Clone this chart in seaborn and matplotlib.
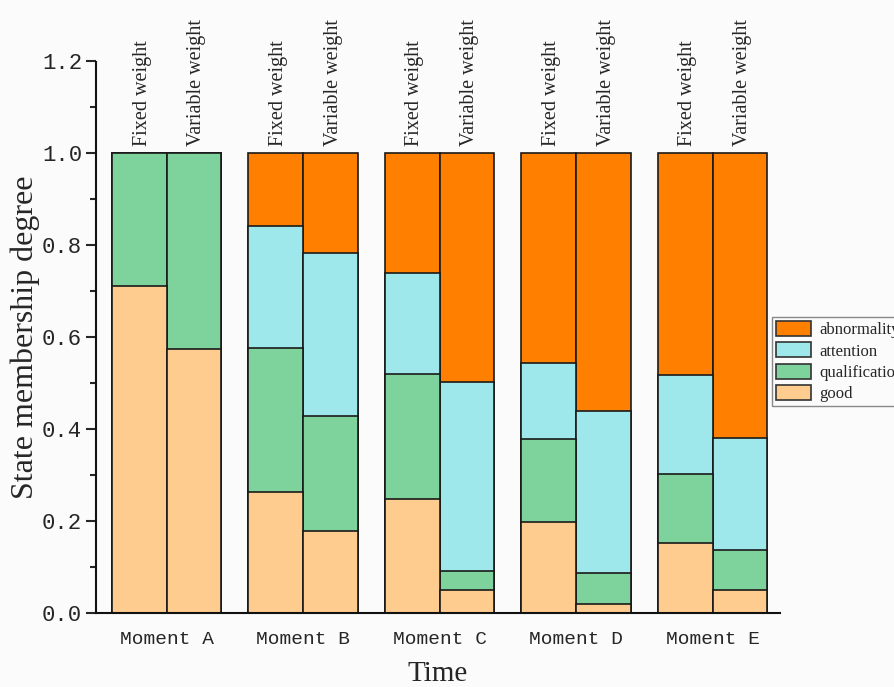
import numpy as np
import pandas as pd
import matplotlib
matplotlib.use("Agg")
import matplotlib.pyplot as plt
from matplotlib.patches import Patch
from matplotlib.ticker import MultipleLocator, FormatStrFormatter
import seaborn as sns

# values (per layer, fixed / variable weight for each moment)
moments = ["Moment A", "Moment B", "Moment C", "Moment D", "Moment E"]
weights = ["Fixed weight", "Variable weight"]
good = [0.711, 0.575, 0.264, 0.178, 0.248, 0.050, 0.197, 0.019, 0.152, 0.050]
qualification = [0.289, 0.425, 0.313, 0.250, 0.272, 0.042, 0.181, 0.067, 0.150, 0.086]
attention = [0.000, 0.000, 0.264, 0.355, 0.219, 0.411, 0.165, 0.354, 0.215, 0.244]
abnormality = [0.000, 0.000, 0.159, 0.217, 0.261, 0.497, 0.457, 0.560, 0.483, 0.620]

colors = {"abnormality": "#ff8000", "attention": "#9ee7eb",
          "qualification": "#7dd39b", "good": "#ffcc8f"}

df = pd.DataFrame({
    "moment": np.repeat(moments, 2),
    "weight": weights * len(moments),
    "good": good,
    "qualification": qualification,
    "attention": attention,
    "abnormality": abnormality,
})
df["c1"] = df["good"]
df["c2"] = df["c1"] + df["qualification"]
df["c3"] = df["c2"] + df["attention"]
df["c4"] = df["c3"] + df["abnormality"]

sns.set_style("ticks")
bg = "#fbfbfb"
fig = plt.figure(figsize=(8.94, 6.87), dpi=100, facecolor=bg)
ax = fig.add_axes([96 / 894, 1 - 613 / 687, 684 / 894, 551.5 / 687])
ax.set_facecolor(bg)

# stacked bars drawn from the top layer down
for col, name in [("c4", "abnormality"), ("c3", "attention"),
                  ("c2", "qualification"), ("c1", "good")]:
    sns.barplot(data=df, x="moment", y=col, hue="weight",
                palette=[colors[name], colors[name]], width=0.8, dodge=True,
                edgecolor="#1a1a1a", linewidth=1.2, legend=False, ax=ax,
                saturation=1, errorbar=None)

# rotated labels above each bar
for i in range(len(moments)):
    for j, w in enumerate(weights):
        ax.text(i - 0.2 + 0.4 * j + 0.02, 1.017, w, rotation=90, ha="center",
                va="bottom", fontsize=14.5, family="Liberation Serif", clip_on=False)

ax.set_xlim(-0.517, 4.494)
ax.set_ylim(0, 1.2)
ax.yaxis.set_major_locator(MultipleLocator(0.2))
ax.yaxis.set_minor_locator(MultipleLocator(0.1))
ax.yaxis.set_major_formatter(FormatStrFormatter("%.1f"))
sns.despine(ax=ax)
for s in ["left", "bottom"]:
    ax.spines[s].set_linewidth(1.5)
    ax.spines[s].set_color("#111111")
ax.tick_params(axis="y", which="major", length=7, width=1.5, pad=3, labelsize=16)
ax.tick_params(axis="y", which="minor", length=4, width=1.5)
ax.tick_params(axis="x", length=0, pad=13, labelsize=14)
for lab in ax.get_yticklabels() + ax.get_xticklabels():
    lab.set_family("Liberation Mono")

ax.set_xlabel("Time", fontsize=21, family="Liberation Serif")
ax.set_ylabel("State membership degree", fontsize=23, family="Liberation Serif")
ax.xaxis.set_label_coords(0.5, -0.087)
ax.yaxis.set_label_coords(-0.082, 0.5)

handles = [Patch(facecolor=colors[n], edgecolor="#333333", linewidth=1.2, label=n)
           for n in ["abnormality", "attention", "qualification", "good"]]
leg = fig.legend(handles=handles, loc="upper left",
                 bbox_to_anchor=(772 / 894, 1 - 317 / 687), borderaxespad=0,
                 prop={"family": "Liberation Serif", "size": 12},
                 fancybox=False, edgecolor="#888888", framealpha=1,
                 handlelength=2.1, handleheight=1.0, handletextpad=0.5,
                 labelspacing=0.25, borderpad=0.25)
leg.get_frame().set_facecolor(bg)

fig.savefig("out.png", dpi=100, facecolor=bg)
